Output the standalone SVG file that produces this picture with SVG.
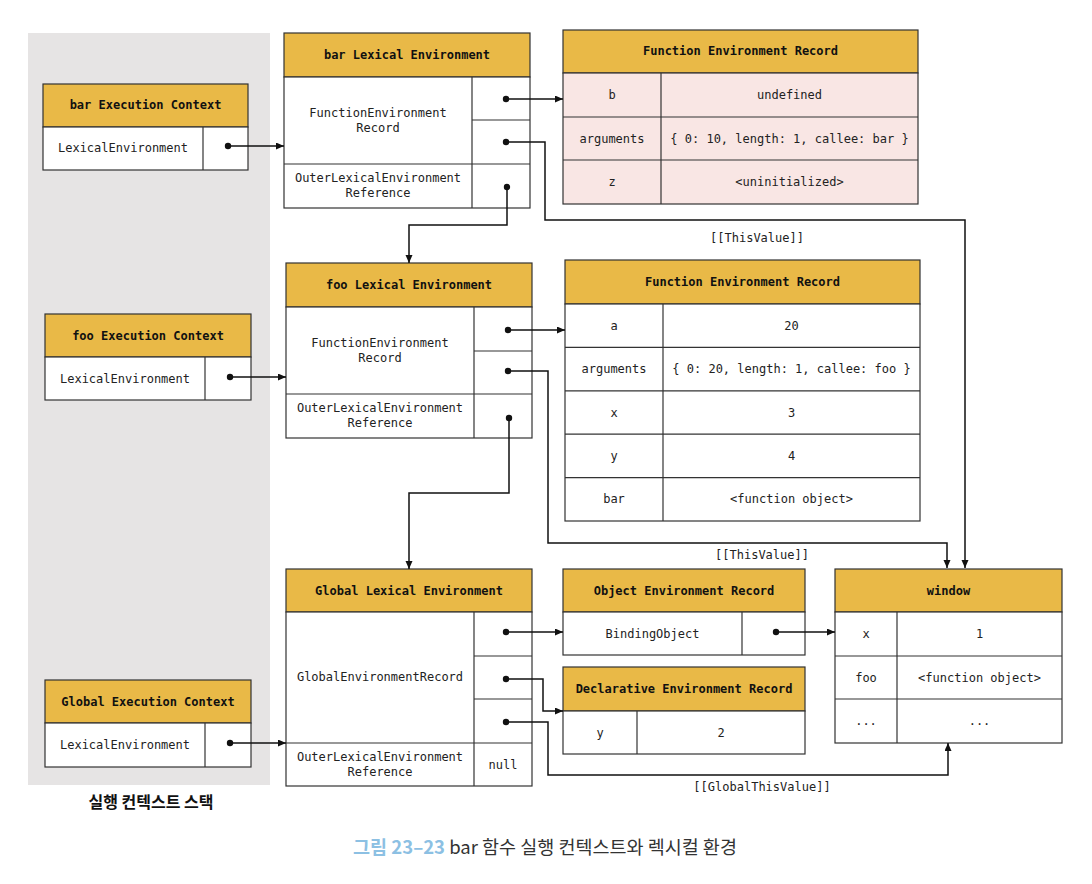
<svg xmlns="http://www.w3.org/2000/svg" width="1092" height="884" viewBox="0 0 1092 884">
<style>
.hd{fill:#e9b947;stroke:#333;stroke-width:1.2}
.bd{fill:#fff;stroke:#333;stroke-width:1.2}
.pk{fill:#f9e6e4;stroke:#333;stroke-width:1.2}
.ln{stroke:#333;stroke-width:1.2;fill:none}
.t{font-family:"DejaVu Sans Mono","Liberation Mono",monospace;font-size:12px;fill:#222;text-anchor:middle;dominant-baseline:central}
.b{font-weight:bold;fill:#111}
.c{stroke:#111;stroke-width:1.5;fill:none;marker-end:url(#ah)}
.dot{fill:#111}
</style>
<defs>
<marker id="ah" markerUnits="userSpaceOnUse" markerWidth="9" markerHeight="8" refX="8" refY="3.5" orient="auto"><path d="M0,0 L8,3.5 L0,7 z" fill="#111"/></marker>
</defs>
<rect x="28" y="33" width="242" height="752" fill="#e6e4e4"/>
<text x="151" y="801" font-family="'Noto Sans CJK KR',sans-serif" font-size="16" font-weight="bold" fill="#111" text-anchor="middle" dominant-baseline="central">실행 컨텍스트 스택</text>

<g id="bar-ec">
<rect class="hd" x="43" y="84" width="205" height="43"/>
<rect class="bd" x="43" y="127" width="205" height="43"/>
<line class="ln" x1="203" y1="127" x2="203" y2="170"/>
<text class="t b" x="145.5" y="105">bar Execution Context</text>
<text class="t" x="123" y="148">LexicalEnvironment</text>
</g>

<g id="bar-le">
<rect class="hd" x="284" y="33" width="246" height="44"/>
<rect class="bd" x="284" y="77" width="246" height="131"/>
<line class="ln" x1="284" y1="164" x2="530" y2="164"/>
<line class="ln" x1="472" y1="77" x2="472" y2="208"/>
<line class="ln" x1="472" y1="120" x2="530" y2="120"/>
<text class="t b" x="407" y="55">bar Lexical Environment</text>
<text class="t" x="378" y="113">FunctionEnvironment</text>
<text class="t" x="378" y="128">Record</text>
<text class="t" x="378" y="178">OuterLexicalEnvironment</text>
<text class="t" x="378" y="193">Reference</text>
</g>

<g id="bar-fer">
<rect class="hd" x="563" y="30" width="355" height="43"/>
<rect class="pk" x="563" y="73" width="355" height="131"/>
<line class="ln" x1="661" y1="73" x2="661" y2="204"/>
<line class="ln" x1="563" y1="117" x2="918" y2="117"/>
<line class="ln" x1="563" y1="160" x2="918" y2="160"/>
<text class="t b" x="740.5" y="51">Function Environment Record</text>
<text class="t" x="612" y="95">b</text>
<text class="t" x="789.5" y="95">undefined</text>
<text class="t" x="612" y="138.5">arguments</text>
<text class="t" x="789.5" y="138.5">{ 0: 10, length: 1, callee: bar }</text>
<text class="t" x="612" y="182">z</text>
<text class="t" x="789.5" y="182">&lt;uninitialized&gt;</text>
</g>

<g id="foo-ec">
<rect class="hd" x="45" y="314" width="206" height="43"/>
<rect class="bd" x="45" y="357" width="206" height="43"/>
<line class="ln" x1="205" y1="357" x2="205" y2="400"/>
<text class="t b" x="148" y="335.5">foo Execution Context</text>
<text class="t" x="125" y="378.5">LexicalEnvironment</text>
</g>

<g id="foo-le">
<rect class="hd" x="286" y="263" width="246" height="44"/>
<rect class="bd" x="286" y="307" width="246" height="131"/>
<line class="ln" x1="286" y1="394" x2="532" y2="394"/>
<line class="ln" x1="474" y1="307" x2="474" y2="438"/>
<line class="ln" x1="474" y1="351" x2="532" y2="351"/>
<text class="t b" x="409" y="285">foo Lexical Environment</text>
<text class="t" x="380" y="343">FunctionEnvironment</text>
<text class="t" x="380" y="358">Record</text>
<text class="t" x="380" y="408">OuterLexicalEnvironment</text>
<text class="t" x="380" y="423">Reference</text>
</g>

<g id="foo-fer">
<rect class="hd" x="565" y="260" width="355" height="44"/>
<rect class="bd" x="565" y="304" width="355" height="217"/>
<line class="ln" x1="663" y1="304" x2="663" y2="521"/>
<line class="ln" x1="565" y1="347.4" x2="920" y2="347.4"/>
<line class="ln" x1="565" y1="390.8" x2="920" y2="390.8"/>
<line class="ln" x1="565" y1="434.2" x2="920" y2="434.2"/>
<line class="ln" x1="565" y1="477.6" x2="920" y2="477.6"/>
<text class="t b" x="742.5" y="282">Function Environment Record</text>
<text class="t" x="614" y="325.7">a</text>
<text class="t" x="791.5" y="325.7">20</text>
<text class="t" x="614" y="369.1">arguments</text>
<text class="t" x="791.5" y="369.1">{ 0: 20, length: 1, callee: foo }</text>
<text class="t" x="614" y="412.5">x</text>
<text class="t" x="791.5" y="412.5">3</text>
<text class="t" x="614" y="455.9">y</text>
<text class="t" x="791.5" y="455.9">4</text>
<text class="t" x="614" y="499.3">bar</text>
<text class="t" x="791.5" y="499.3">&lt;function object&gt;</text>
</g>

<g id="global-ec">
<rect class="hd" x="45" y="680" width="206" height="43"/>
<rect class="bd" x="45" y="723" width="206" height="44"/>
<line class="ln" x1="205" y1="723" x2="205" y2="767"/>
<text class="t b" x="148" y="701.5">Global Execution Context</text>
<text class="t" x="125" y="745">LexicalEnvironment</text>
</g>

<g id="global-le">
<rect class="hd" x="286" y="569" width="246" height="43"/>
<rect class="bd" x="286" y="612" width="246" height="174"/>
<line class="ln" x1="286" y1="743" x2="532" y2="743"/>
<line class="ln" x1="474" y1="612" x2="474" y2="786"/>
<line class="ln" x1="474" y1="656" x2="532" y2="656"/>
<line class="ln" x1="474" y1="699" x2="532" y2="699"/>
<text class="t b" x="409" y="590.5">Global Lexical Environment</text>
<text class="t" x="380" y="677">GlobalEnvironmentRecord</text>
<text class="t" x="380" y="757">OuterLexicalEnvironment</text>
<text class="t" x="380" y="772">Reference</text>
<text class="t" x="503" y="764.5">null</text>
</g>

<g id="object-er">
<rect class="hd" x="563" y="569" width="242" height="43"/>
<rect class="bd" x="563" y="612" width="242" height="43"/>
<line class="ln" x1="742" y1="612" x2="742" y2="655"/>
<text class="t b" x="684" y="590.5">Object Environment Record</text>
<text class="t" x="652.5" y="633.5">BindingObject</text>
</g>

<g id="declarative-er">
<rect class="hd" x="563" y="667" width="242" height="44"/>
<rect class="bd" x="563" y="711" width="242" height="43"/>
<line class="ln" x1="637" y1="711" x2="637" y2="754"/>
<text class="t b" x="684" y="689">Declarative Environment Record</text>
<text class="t" x="600" y="732.5">y</text>
<text class="t" x="721" y="732.5">2</text>
</g>

<g id="window">
<rect class="hd" x="835" y="569" width="227" height="43"/>
<rect class="bd" x="835" y="612" width="227" height="131"/>
<line class="ln" x1="897" y1="612" x2="897" y2="743"/>
<line class="ln" x1="835" y1="656" x2="1062" y2="656"/>
<line class="ln" x1="835" y1="699" x2="1062" y2="699"/>
<text class="t b" x="948.5" y="590.5">window</text>
<text class="t" x="866" y="634">x</text>
<text class="t" x="979.5" y="634">1</text>
<text class="t" x="866" y="677.5">foo</text>
<text class="t" x="979.5" y="677.5">&lt;function object&gt;</text>
<text class="t" x="866" y="721">...</text>
<text class="t" x="979.5" y="721">...</text>
</g>

<g id="connectors">
<path class="c" d="M228,146 H284"/>
<path class="c" d="M506,99 H563"/>
<path class="c" d="M506,142 H545 V220 H965 V568"/>
<path class="c" d="M507,187 V225 H409 V263"/>
<path class="c" d="M230,377 H286"/>
<path class="c" d="M508,330 H565"/>
<path class="c" d="M508,371 H548 V543 H947 V568"/>
<path class="c" d="M509,418 V493 H409 V569"/>
<path class="c" d="M230,743 H286"/>
<path class="c" d="M506,632 H563"/>
<path class="c" d="M776,632 H835"/>
<path class="c" d="M506,679 H543 V711 H563"/>
<path class="c" d="M506,722 H548 V775 H948 V743"/>
<circle class="dot" cx="228" cy="146" r="3.2"/>
<circle class="dot" cx="506" cy="99" r="3.2"/>
<circle class="dot" cx="506" cy="142" r="3.2"/>
<circle class="dot" cx="507" cy="187" r="3.2"/>
<circle class="dot" cx="230" cy="377" r="3.2"/>
<circle class="dot" cx="508" cy="330" r="3.2"/>
<circle class="dot" cx="508" cy="371" r="3.2"/>
<circle class="dot" cx="509" cy="418" r="3.2"/>
<circle class="dot" cx="230" cy="743" r="3.2"/>
<circle class="dot" cx="506" cy="632" r="3.2"/>
<circle class="dot" cx="776" cy="632" r="3.2"/>
<circle class="dot" cx="506" cy="679" r="3.2"/>
<circle class="dot" cx="506" cy="722" r="3.2"/>
<text class="t" x="757" y="238">[[ThisValue]]</text>
<text class="t" x="762" y="555">[[ThisValue]]</text>
<text class="t" x="762" y="787">[[GlobalThisValue]]</text>
</g>

<text x="545" y="846" font-family="'Noto Sans CJK KR',sans-serif" font-size="18.5" text-anchor="middle" dominant-baseline="central"><tspan fill="#8cc0e3" font-weight="bold">그림 23–23</tspan><tspan fill="#333"> bar 함수 실행 컨텍스트와 렉시컬 환경</tspan></text>
</svg>
